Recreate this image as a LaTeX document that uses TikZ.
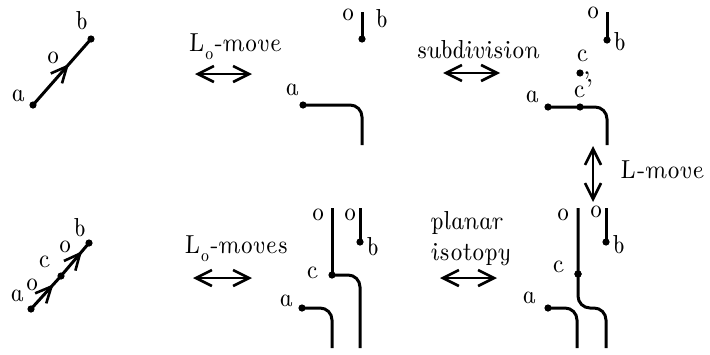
\documentclass[tikz,border=0pt]{standalone}
\usepackage{fontspec}
\newfontface\uiface{lmroman10-italic}[Extension=.otf, FakeSlant=-0.22, Ligatures=TeX]
\newfontface\upface{lmroman10-regular}[Extension=.otf, Ligatures=TeX]
\usetikzlibrary{arrows.meta,decorations.markings}
\newcommand{\uifont}{\uiface\fontsize{13}{15}\selectfont}
\begin{document}
\begin{tikzpicture}[x=0.5pt,y=-0.5pt,
  every node/.style={font=\uifont, inner sep=0pt},
  dot/.style={circle, fill=black, inner sep=0pt, minimum size=3.6pt},
  strand/.style={line width=1.5pt},
  rstrand/.style={line width=1.5pt, rounded corners=6pt},
  dbl/.style={line width=1.3pt, {Straight Barb[length=8pt,width=8pt]}-{Straight Barb[length=8pt,width=8pt]}},
  midarrow/.style={postaction={decorate}, decoration={markings, mark=at position #1 with {\arrow{Straight Barb[length=8pt,width=7.5pt,line width=1.3pt]}}}}
]
\useasboundingbox (0,0) rectangle (710,354);

% Panel 1
\node[dot] (a1) at (33,105) {};
\node[dot] (b1) at (91,39) {};
\draw[strand, midarrow=0.62] (a1.center) -- (b1.center);
\node (la1) at (18,96) {a};
\node (lb1) at (82,21) {b};
\node (lo1) at (53,58) {o};

% L_o-move
\node (t1) at (235,47) {L\raisebox{-0.7ex}{\fontsize{9}{10}\selectfont o}-move};
\coordinate (d1l) at (195,74);
\coordinate (d1r) at (252,74);
\draw[dbl] (d1l) -- (d1r);

% Panel 2
\coordinate (t2) at (362,12);
\node[dot] (b2) at (362,39) {};
\draw[strand] (t2) -- (b2.center);
\node (lo2) at (348,15) {o};
\node (lb2) at (382,19) {b};
\node[dot] (a2) at (303,105) {};
\coordinate (e2) at (362,145);
\draw[rstrand] (a2.center) -| (e2);
\node (la2) at (292,90) {a};

% subdivision
\node (t2t) at (478,50) {subdivision};
\coordinate (d2l) at (443,73);
\coordinate (d2r) at (500,73);
\draw[dbl] (d2l) -- (d2r);

% Panel 3
\coordinate (t3) at (607,12);
\node[dot] (b3) at (607,40) {};
\draw[strand] (t3) -- (b3.center);
\node (lo3) at (593,13) {o};
\node (lb3) at (620,42) {b};
\node (lc3) at (582,56) {c};
\node[dot] (c3) at (580,73) {};
\node[font=\upface\fontsize{13}{15}\selectfont] (cm3) at (587,76) {,};
\node (lcp3) at (583,89) {c'};
\node[dot] (a3) at (548,107) {};
\node[dot] (cp3) at (580,107) {};
\coordinate (e3) at (607,145);
\draw[rstrand] (a3.center) -| (e3);
\node (la3) at (532,97) {a};

% L-move
\coordinate (d3t) at (593,146);
\coordinate (d3b) at (593,202);
\draw[dbl] (d3t) -- (d3b);
\node (t3t) at (662,170) {L-move};

% Panel 4
\node[dot] (a4) at (31,309) {};
\node[dot] (c4) at (61,276) {};
\node[dot] (b4) at (89,243) {};
\draw[strand, midarrow=0.75] (a4.center) -- (c4.center);
\draw[strand, midarrow=0.75] (c4.center) -- (b4.center);
\node (la4) at (17,296) {a};
\node (lo4a) at (32,285) {o};
\node (lc4) at (44,262) {c};
\node (lo4b) at (65,247) {o};
\node (lb4) at (80,228) {b};

% L_o-moves
\node (t4) at (236,249) {L\raisebox{-0.7ex}{\fontsize{9}{10}\selectfont o}-moves};
\coordinate (d4l) at (193,278);
\coordinate (d4r) at (252,278);
\draw[dbl] (d4l) -- (d4r);

% Panel 5
\coordinate (t5a) at (332,208);
\node[dot] (c5) at (332,275) {};
\coordinate (e5a) at (360,348);
\draw[strand] (t5a) -- (c5.center);
\draw[rstrand] (c5.center) -| (e5a);
\coordinate (t5b) at (360,208);
\node[dot] (b5) at (360,242) {};
\draw[strand] (t5b) -- (b5.center);
\node[dot] (a5) at (302,308) {};
\coordinate (e5b) at (332,348);
\draw[rstrand] (a5.center) -| (e5b);
\node (lo5a) at (318,215) {o};
\node (lo5b) at (350,215) {o};
\node (lb5) at (373,247) {b};
\node (lc5) at (312,273) {c};
\node (la5) at (286,301) {a};

% planar isotopy
\node (t5t1) at (467,223) {planar};
\node (t5t2) at (471,255) {isotopy};
\coordinate (d5l) at (440,278);
\coordinate (d5r) at (497,278);
\draw[dbl] (d5l) -- (d5r);

% Panel 6
\coordinate (t6a) at (578,208);
\node[dot] (c6) at (578,274) {};
\coordinate (e6a) at (606,348);
\draw[rstrand] (t6a) -- (c6.center) -- (578,308) -- (606,308) -- (e6a);
\node[dot] at (c6) {};
\coordinate (t6b) at (606,208);
\node[dot] (b6) at (606,242) {};
\draw[strand] (t6b) -- (b6.center);
\node[dot] (a6) at (548,308) {};
\coordinate (e6b) at (577,348);
\draw[rstrand] (a6.center) -| (e6b);
\node (lo6a) at (563,215) {o};
\node (lo6b) at (596,212) {o};
\node (lb6) at (619,245) {b};
\node (lc6) at (558,267) {c};
\node (la6) at (529,298) {a};
\end{tikzpicture}
\end{document}
